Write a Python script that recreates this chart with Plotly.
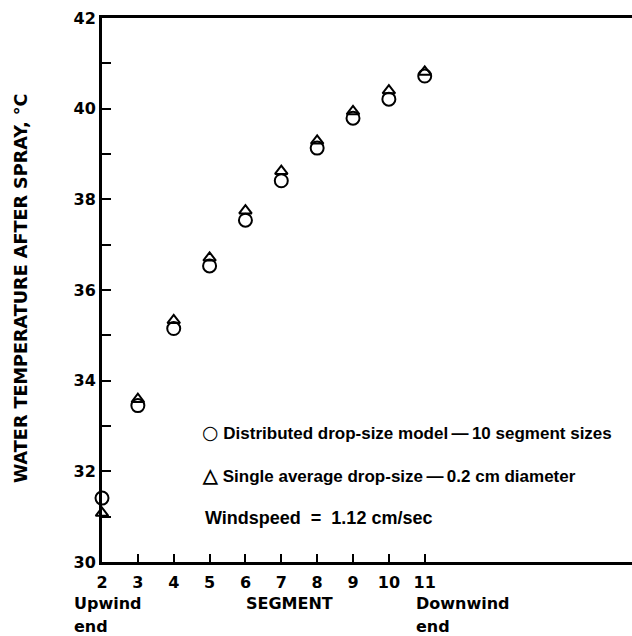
import plotly.graph_objects as go

segments = [2, 3, 4, 5, 6, 7, 8, 9, 10, 11]
distributed_temp = [31.41, 33.45, 35.15, 36.53, 37.54, 38.41, 39.13, 39.79, 40.21, 40.72]
single_temp = [31.08, 33.59, 35.33, 36.71, 37.75, 38.62, 39.29, 39.94, 40.40, 40.81]
y_ticks = [30, 32, 34, 36, 38, 40, 42]
x_ticks = [2, 3, 4, 5, 6, 7, 8, 9, 10, 11]

FONT = "DejaVu Sans"
FONT2 = "Liberation Sans"
W, H = 632, 636
L, R, T, B = 102, 0, 18, 74

fig = go.Figure()
fig.add_trace(go.Scatter(
    x=segments, y=distributed_temp, mode="markers", cliponaxis=False,
    marker=dict(symbol="circle-open", size=13, color="black", line=dict(width=2, color="black")),
    showlegend=False))
fig.add_trace(go.Scatter(
    x=segments, y=single_temp, mode="markers", cliponaxis=False,
    marker=dict(symbol="triangle-up-open", size=11, color="black", line=dict(width=2, color="black")),
    showlegend=False))

tf = dict(family=FONT, size=16, color="black", weight="bold")
fig.update_xaxes(range=[2, 16.78], tickvals=x_ticks, ticks="inside", ticklen=8, tickwidth=2,
                 tickcolor="black", showline=True, linecolor="black", linewidth=3, mirror=True,
                 showgrid=False, zeroline=False, tickfont=tf, ticklabelstandoff=4)
fig.update_yaxes(range=[30, 42], tickvals=y_ticks, ticks="inside", ticklen=9, tickwidth=2,
                 tickcolor="black", showline=True, linecolor="black", linewidth=3, mirror=False,
                 showgrid=False, zeroline=False, tickfont=tf, ticklabelstandoff=0,
                 minor=dict(dtick=1, ticks="inside", ticklen=9, tickwidth=2, tickcolor="black", showgrid=False))

pw = W - L - R
ph = H - T - B

def px(xpix):
    return (xpix - L) / pw

def py(ypix):
    return (H - B - ypix) / ph

af = dict(family=FONT, size=16, color="black", weight="bold")
lf = dict(family=FONT2, size=17, color="black", weight="bold")
wf = dict(family=FONT2, size=18, color="black", weight="bold")
ann = [
    ("<span style='font-family:DejaVu Sans;font-size:19px'>○</span> Distributed drop-size model\u2009—\u200910 segment sizes", 200, 432, "left", lf),
    ("<span style='font-size:19px'>△</span> Single average drop-size\u2009—\u20090.2 cm diameter", 200, 475, "left", lf),
    ("Windspeed  =  1.12 cm/sec", 203, 518, "left", wf),
    ("Upwind", 72, 603, "left", af),
    ("end", 72, 626, "left", af),
    ("SEGMENT", 289, 603, "center", af),
    ("Downwind", 414, 603, "left", af),
    ("end", 414, 626, "left", af),
]
for text, xp, yp, anc, f in ann:
    fig.add_annotation(text=text, xref="paper", yref="paper", x=px(xp), y=py(yp),
                       xanchor=anc, yanchor="middle", showarrow=False, font=f)

fig.add_annotation(text="WATER TEMPERATURE AFTER SPRAY, °C", xref="paper", yref="paper",
                   x=px(21), y=py(288), xanchor="center", yanchor="middle", textangle=-90,
                   showarrow=False, font=dict(family=FONT, size=17.6, color="black", weight="bold"))

fig.update_layout(width=W, height=H, margin=dict(l=L, r=R, t=T, b=B),
                  paper_bgcolor="white", plot_bgcolor="white",
                  font=dict(family=FONT, color="black"))
fig.write_html("out.html")
